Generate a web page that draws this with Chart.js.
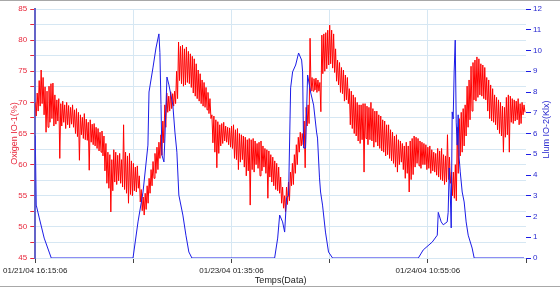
<!DOCTYPE html>
<html>
<head>
<meta charset="utf-8">
<script src="https://cdn.jsdelivr.net/npm/chart.js@4.4.1/dist/chart.umd.min.js"></script>
<style>
  html, body { margin: 0; padding: 0; background: #fff; }
  .wrap { position: relative; width: 560px; height: 288px; }
  .wrap::before, .wrap::after { content: ''; position: absolute; left: 0; right: 0; height: 1px; background: #a8a8a8; }
  .wrap::before { top: 0; }
  .wrap::after { top: 286px; }
</style>
</head>
<body>
<div class="wrap"><canvas id="chart" width="560" height="288"></canvas></div>
<script>
// oxygen: high and low reading of each 20 min window, from the start stamp
const windowMinutes = 20
const oxygenHigh = [
  70.0, 71.5, 73.5, 75.2, 74.0, 72.5, 71.8, 72.6, 73.0, 73.1,
  71.2, 70.4, 70.6, 69.8, 70.2, 69.6, 70.0, 69.5, 69.2, 69.6,
  68.8, 69.0, 68.4, 68.0, 67.6, 68.2, 67.3, 66.8, 67.2, 66.5,
  66.6, 66.0, 65.8, 65.2, 65.4, 64.6, 63.4, 62.0, 61.6, 60.8,
  62.4, 62.0, 61.5, 61.8, 60.8, 66.4, 62.0, 61.4, 61.8, 60.6,
  60.2, 59.6, 59.8, 58.2, 56.0, 54.8, 55.4, 56.6, 57.8, 59.2,
  60.5, 61.8, 62.8, 63.6, 64.8, 67.0, 69.6, 71.5, 71.0, 71.7,
  71.4, 71.8, 75.0, 79.7, 79.0, 79.2, 78.6, 78.9, 78.2, 77.8,
  77.4, 77.0, 76.2, 75.2, 74.6, 73.6, 73.2, 72.4, 71.6, 70.6,
  68.0, 67.8, 67.2, 66.9, 66.4, 66.6, 66.8, 66.2, 66.0, 65.9,
  66.2, 66.4, 65.6, 65.8, 65.0, 64.8, 64.6, 64.4, 64.0, 64.2,
  64.0, 64.2, 63.8, 63.4, 63.6, 63.8, 63.0, 62.6, 62.4, 62.2,
  61.6, 61.2, 60.6, 60.2, 59.6, 58.0, 56.4, 55.0, 56.4, 57.2,
  58.8, 60.2, 61.6, 63.2, 64.4, 65.2, 65.0, 67.0, 69.2, 69.6,
  80.3, 74.0, 73.8, 73.9, 73.6, 73.2, 80.8, 81.0, 81.2, 81.6,
  82.4, 81.6, 81.0, 78.6, 76.8, 76.4, 75.6, 75.2, 74.4, 74.0,
  72.2, 71.8, 71.2, 70.8, 70.0, 69.6, 69.6, 69.8, 69.8, 69.4,
  69.2, 70.0, 69.0, 68.6, 68.6, 68.0, 67.8, 67.2, 67.0, 66.4,
  66.4, 65.6, 65.2, 64.6, 64.8, 64.0, 63.8, 63.4, 63.0, 63.6,
  63.0, 63.8, 64.2, 64.6, 64.4, 64.2, 63.8, 63.6, 63.4, 63.2,
  62.8, 63.0, 62.4, 62.0, 61.8, 62.6, 62.2, 62.6, 61.6, 61.4,
  64.8, 61.2, 58.8, 58.8, 60.0, 66.0, 67.4, 68.4, 69.0, 69.6,
  72.6, 73.6, 75.8, 76.4, 76.8, 77.3, 77.0, 76.2, 76.0, 75.6,
  74.0, 73.6, 72.8, 72.2, 71.2, 70.8, 70.4, 70.0, 69.4, 69.2,
  70.8, 71.2, 71.0, 70.6, 70.4, 70.2, 70.6, 69.8, 70.0, 69.6
]
const oxygenLow = [
  67.8, 68.6, 69.4, 69.8, 68.0, 65.2, 66.0, 66.8, 67.4, 66.2,
  66.5, 67.0, 61.0, 66.2, 66.8, 65.8, 66.4, 65.9, 66.5, 66.0,
  65.0, 64.5, 60.7, 64.8, 64.2, 64.0, 63.9, 59.1, 63.6, 63.2,
  63.0, 62.6, 62.2, 62.0, 61.4, 59.0, 57.0, 56.2, 52.4, 55.8,
  57.2, 56.8, 57.4, 57.0, 56.4, 56.0, 55.4, 53.8, 55.2, 55.0,
  55.8, 55.6, 56.2, 54.0, 52.6, 51.9, 52.8, 53.8, 55.4, 56.6,
  57.8, 58.6, 59.2, 61.0, 61.5, 63.5, 66.0, 68.4, 68.6, 69.0,
  69.4, 69.8, 70.6, 73.5, 73.0, 72.6, 72.8, 73.2, 73.0, 72.4,
  71.5, 71.0, 70.6, 70.2, 69.8, 69.4, 69.2, 68.8, 68.2, 67.4,
  63.5, 62.0, 59.5, 61.8, 63.0, 63.4, 63.8, 63.6, 63.2, 62.8,
  62.6, 61.0, 60.8, 59.2, 60.4, 60.8, 59.6, 58.2, 59.0, 53.5,
  59.2, 58.8, 60.0, 59.4, 58.2, 59.0, 59.6, 58.6, 54.6, 58.0,
  57.2, 56.6, 56.0, 55.8, 55.4, 53.8, 53.0, 52.4, 53.6, 54.2,
  56.6, 56.8, 58.6, 60.0, 62.0, 63.0, 63.2, 59.5, 66.2, 66.6,
  71.8, 71.8, 72.0, 71.6, 71.8, 68.5, 74.6, 75.0, 75.4, 76.0,
  76.2, 75.5, 74.8, 73.4, 72.8, 71.6, 71.4, 70.2, 70.4, 69.8,
  66.4, 65.8, 65.0, 64.6, 63.8, 63.4, 64.0, 58.8, 64.2, 63.2,
  64.0, 63.8, 62.8, 63.6, 63.0, 62.6, 62.2, 62.0, 61.4, 61.6,
  61.0, 60.6, 60.2, 59.6, 58.8, 60.0, 60.4, 59.2, 57.8, 58.6,
  55.6, 57.6, 58.4, 59.6, 60.2, 59.8, 59.4, 60.0, 60.0, 59.2,
  59.4, 58.6, 59.0, 58.8, 58.3, 58.0, 57.6, 57.4, 56.8, 57.2,
  57.6, 57.0, 55.0, 54.6, 54.2, 58.6, 61.4, 62.0, 63.0, 64.6,
  66.0, 67.2, 68.6, 70.4, 70.2, 70.8, 71.2, 71.0, 70.6, 70.4,
  68.6, 67.4, 67.0, 66.8, 66.4, 65.6, 65.0, 64.6, 62.0, 64.4,
  64.8, 62.0, 66.8, 66.6, 67.0, 67.2, 66.4, 66.6, 68.0, 68.4
]

const lightMinutes = [
  0, 10, 41, 91, 163, 996, 1047, 1098, 1148, 1159, 1199, 1230, 1260, 1270, 1281,
  1291, 1311, 1321, 1342, 1362, 1402, 1423, 1443, 1463, 1504, 1535, 1565, 1596,
  2439, 2470, 2490, 2520, 2541, 2561, 2581, 2602, 2622, 2653, 2683, 2714, 2724,
  2734, 2754, 2775, 2805, 2836, 2866, 2876, 2896, 2907, 2927, 2957, 2988, 3029,
  3903, 3953, 4045, 4096, 4106, 4136, 4157, 4197, 4207, 4218, 4228, 4238, 4248,
  4258, 4268, 4279, 4289, 4299, 4309, 4319, 4330, 4350, 4370, 4390, 4411, 4451,
  4472, 4980
]
const lightKlx = [
  5.9, 2.55, 1.93, 0.96, 0, 0, 1.74, 3.18, 5.44, 8.0, 9.16, 10.12, 10.8, 9.9, 7.4,
  4.96, 4.63, 5.78, 8.72, 8.34, 7.37, 6.07, 5.1, 3.03, 2.07, 1.1, 0.29, 0,
  0, 0.96, 2.07, 1.74, 1.25, 2.9, 3.0, 8.2, 8.97, 9.3, 9.88, 9.54, 8.97,
  5.3, 5.3, 8.82, 8.0, 7.37, 6.07, 5.78, 3.86, 3.18, 2.55, 1.25, 0.29, 0,
  0, 0.39, 0.77, 1.1, 2.2, 1.74, 1.6, 1.74, 2.2, 4.34, 3.18, 1.45, 7.04,
  6.7, 8.97, 10.5, 6.55, 5.44, 6.9, 4.82, 4.15, 3.18, 2.7, 1.74, 1.1, 0.48,
  0, 0
]

const timeTicks = [0, 2000, 4000]
const timeLabels = ['01/21/04 16:15:06', '01/23/04 01:35:06', '01/24/04 10:55:06']

const RED = '#ff0000'
const RED_TXT = '#e8283c'
const BLUE = '#1c1ce6'
const BLUE_TXT = '#2a2ad0'
const GRID = '#d6e7f3'

// high reading at the start of each window, low reading half way through
const oxygenPoints = []
oxygenHigh.forEach((hi, i) => {
  oxygenPoints.push({ x: i * windowMinutes, y: hi })
  oxygenPoints.push({ x: i * windowMinutes + windowMinutes / 2, y: oxygenLow[i] })
})
const lightPoints = lightMinutes.map((m, i) => ({ x: m, y: lightKlx[i] }))

// right title reads bottom-to-top, chart.js would rotate it the other way
const rightTitle = {
  id: 'rightTitle',
  afterDraw(chart) {
    const ctx = chart.ctx
    const a = chart.chartArea
    ctx.save()
    ctx.translate(chart.width - 13, (a.top + a.bottom) / 2 - 4)
    ctx.rotate(-Math.PI / 2)
    ctx.fillStyle = BLUE_TXT
    ctx.font = '9px "Liberation Sans", Arial, sans-serif'
    ctx.textAlign = 'center'
    ctx.textBaseline = 'middle'
    ctx.fillText('Llum IO-2(Klx)', 0, 0)
    ctx.restore()
  }
}

new Chart(document.getElementById('chart'), {
  type: 'line',
  data: {
    datasets: [
      {
        label: 'Llum IO-2(Klx)',
        data: lightPoints,
        yAxisID: 'y2',
        borderColor: BLUE,
        borderWidth: 1,
        pointRadius: 0,
        tension: 0
      },
      {
        label: 'Oxigen IO-1(%)',
        data: oxygenPoints,
        yAxisID: 'y',
        borderColor: RED,
        borderWidth: 1,
        pointRadius: 0,
        tension: 0
      }
    ]
  },
  options: {
    responsive: false,
    animation: false,
    devicePixelRatio: 1,
    layout: { padding: { top: 9, left: 0, right: 0, bottom: 0 } },
    plugins: { legend: { display: false }, tooltip: { enabled: false } },
    scales: {
      x: {
        type: 'linear',
        min: 0,
        max: 5000,
        afterFit: s => { s.height = 30 },
        border: { display: false },
        grid: {
          color: c => (c.tick && c.tick.value === 5000) ? 'rgba(0,0,0,0)' : GRID,
          tickColor: '#444',
          tickLength: 5
        },
        ticks: {
          stepSize: 1000,
          autoSkip: false,
          maxRotation: 0,
          padding: 3,
          color: '#222',
          font: { family: '"Liberation Sans Narrow", "Liberation Sans", Arial', size: 8 },
          callback: v => {
            const k = timeTicks.indexOf(v)
            return k >= 0 ? timeLabels[k] : ''
          }
        },
        title: {
          display: true,
          text: 'Temps(Data)',
          color: '#222',
          font: { family: '"Liberation Sans", Arial', size: 9 },
          padding: { top: 0, bottom: 2 }
        }
      },
      y: {
        position: 'left',
        min: 45,
        max: 85,
        afterFit: s => { s.width = 34 },
        border: { display: true, color: '#6464c8', width: 2 },
        grid: { color: GRID, tickColor: RED_TXT, tickLength: 5 },
        ticks: {
          stepSize: 2.5,
          padding: 3,
          color: RED_TXT,
          font: { family: '"Liberation Sans", Arial', size: 8 },
          callback: v => (v % 5 === 0 ? v : '')
        },
        title: {
          display: true,
          text: 'Oxigen IO-1(%)',
          color: RED_TXT,
          font: { family: '"Liberation Sans", Arial', size: 9 },
          padding: { top: 8, bottom: 0 }
        }
      },
      y2: {
        position: 'right',
        min: 0,
        max: 12,
        afterFit: s => { s.width = 34 },
        border: { display: false },
        grid: { drawOnChartArea: false, tickColor: BLUE, tickLength: 5 },
        ticks: {
          stepSize: 1,
          padding: 2,
          color: BLUE_TXT,
          font: { family: '"Liberation Sans", Arial', size: 8 }
        }
      }
    }
  },
  plugins: [rightTitle]
})
</script>
</body>
</html>
